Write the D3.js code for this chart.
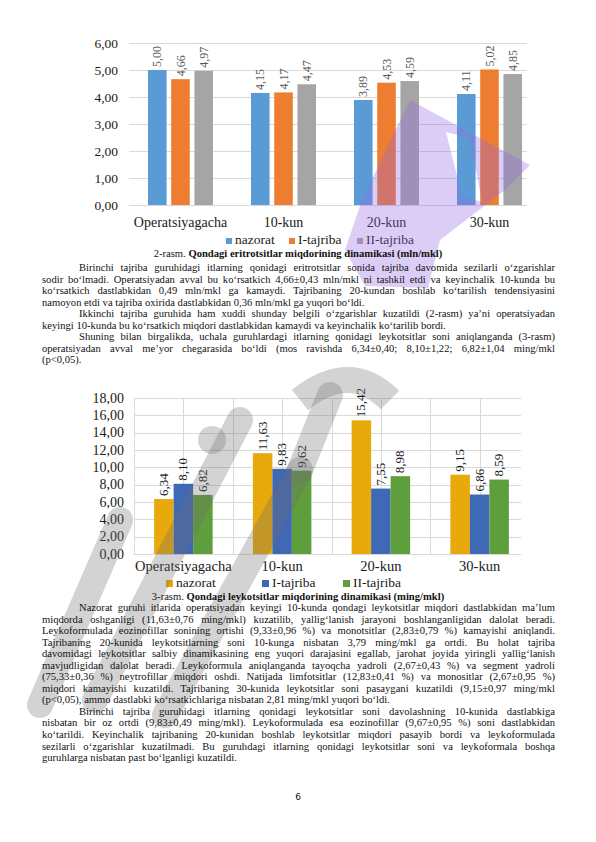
<!DOCTYPE html>
<html>
<head>
<meta charset="utf-8">
<script src="https://cdn.jsdelivr.net/npm/d3@7"></script>
<style>
  html, body { margin: 0; padding: 0; background: #fff; }
  #page { position: relative; width: 596px; height: 842px; overflow: hidden; font-family: "Liberation Serif", "Times New Roman", serif; color: #111; }
  #page svg { position: absolute; left: 0; top: 0; font-family: "Liberation Serif", serif; }
  #wm { pointer-events: none; }
  .blk { position: absolute; left: 42px; width: 513px; font-size: 10.6px; line-height: 11.55px; }
  .ln { display: block; white-space: nowrap; text-align: justify; text-align-last: justify; }
  .ln.last { text-align-last: left; }
  .ln.ind { padding-left: 37px; }
  .cap { position: absolute; left: 0; width: 596px; text-align: center; font-size: 10.6px; line-height: 12px; }
</style>
</head>
<body>
<div id="page"></div>
<script>
// chart 2 (eritrotsitlar)
const categories = ["Operatsiyagacha", "10-kun", "20-kun", "30-kun"];
const series = ["nazorat", "I-tajriba", "II-tajriba"];
const eritNazorat = [5.00, 4.15, 3.89, 4.11];
const eritTajriba1 = [4.66, 4.17, 4.53, 5.02];
const eritTajriba2 = [4.97, 4.47, 4.59, 4.85];
const eritTicks = [0, 1, 2, 3, 4, 5, 6];

// chart 3 (leykotsitlar)
const leykNazorat = [6.34, 11.63, 15.42, 9.15];
const leykTajriba1 = [8.10, 9.83, 7.55, 6.86];
const leykTajriba2 = [6.82, 9.62, 8.98, 8.59];
const leykTicks = [0, 2, 4, 6, 8, 10, 12, 14, 16, 18];

const fmt = v => v.toFixed(2).replace(".", ",");

const page = d3.select("#page");
const svg = page.append("svg").attr("width", 596).attr("height", 842);

function drawChart(o) {
  const g = svg.append("g");
  const y = d3.scaleLinear().domain([0, o.max]).range([o.y0, o.yTop]);
  const x = d3.scaleBand().domain(categories).range(o.xRange).paddingInner(0).paddingOuter(0);
  const xs = d3.scaleBand().domain(series).range([0, o.groupW]).paddingInner(o.innerPad);

  // grid
  g.append("g").selectAll("line").data(o.grid).join("line")
    .attr("x1", o.xRange[0]).attr("x2", o.gridRight)
    .attr("y1", d => Math.round(y(d)) + 0.5).attr("y2", d => Math.round(y(d)) + 0.5)
    .attr("stroke", "#d9d9d9").attr("stroke-width", 1);
  if (o.vgrid) {
    const vx = [];
    categories.forEach(c => { vx.push(x(c)); vx.push(x(c) + x.bandwidth() / 2); });
    g.append("g").selectAll("line").data(vx).join("line")
      .attr("x1", d => Math.round(d) + 0.5).attr("x2", d => Math.round(d) + 0.5)
      .attr("y1", o.yTop).attr("y2", o.y0)
      .attr("stroke", "#d9d9d9").attr("stroke-width", 1);
  }

  // y tick labels
  g.append("g").selectAll("text").data(o.ticks).join("text")
    .attr("x", o.tickX).attr("y", d => y(d) + 4.5)
    .attr("text-anchor", "end")
    .attr("font-size", o.tickSize).attr("fill", "#1a1a1a")
    .text(fmt);

  // bars
  const rows = [];
  categories.forEach((c, i) => {
    o.values.forEach((arr, s) => rows.push({ c, s: series[s], v: arr[i], col: o.colors[s] }));
  });
  const cx = c => x(c) + x.bandwidth() / 2 - o.groupW / 2;
  g.append("g").selectAll("rect").data(rows).join("rect")
    .attr("x", d => cx(d.c) + xs(d.s))
    .attr("y", d => y(d.v))
    .attr("width", xs.bandwidth())
    .attr("height", d => o.y0 - y(d.v))
    .attr("fill", d => d.col);

  // value labels (rotated)
  g.append("g").selectAll("text").data(rows).join("text")
    .attr("transform", d => `translate(${cx(d.c) + xs(d.s) + xs.bandwidth() / 2 + 4},${y(d.v) - 3}) rotate(-90)`)
    .attr("font-size", o.labelSize).attr("fill", o.labelColor)
    .text(d => fmt(d.v));

  // category labels
  g.append("g").selectAll("text").data(categories).join("text")
    .attr("x", c => x(c) + x.bandwidth() / 2).attr("y", o.catY)
    .attr("text-anchor", "middle").attr("font-size", o.catSize).attr("fill", "#1a1a1a")
    .text(c => c);

  // legend
  const lg = g.append("g").selectAll("g").data(series).join("g")
    .attr("transform", (d, i) => `translate(${o.legendX[i]},${o.legendY})`);
  lg.append("rect").attr("x", 0).attr("y", -o.mark).attr("width", o.mark).attr("height", o.mark)
    .attr("fill", (d, i) => o.colors[i]);
  lg.append("text").attr("x", o.mark + 3).attr("y", 0)
    .attr("font-size", o.legendSize).attr("fill", "#1a1a1a").text(d => d);
}

drawChart({
  values: [eritNazorat, eritTajriba1, eritTajriba2],
  colors: ["#5b9bd5", "#ed7d31", "#a5a5a5"],
  max: 6, ticks: eritTicks, grid: eritTicks,
  y0: 205, yTop: 43, xRange: [129, 541], gridRight: 527,
  groupW: 65, innerPad: 0.2, vgrid: false,
  tickX: 118, tickSize: 13.5, labelSize: 12, labelColor: "#595959",
  catY: 227, catSize: 14,
  legendX: [226, 289, 357], legendY: 244, mark: 6, legendSize: 13.5
});

drawChart({
  values: [leykNazorat, leykTajriba1, leykTajriba2],
  colors: ["#e8a90a", "#3f68b5", "#5f9e3c"],
  max: 18, ticks: leykTicks, grid: leykTicks,
  y0: 554, yTop: 398, xRange: [134, 529], gridRight: 521,
  groupW: 58.5, innerPad: 0, vgrid: true,
  tickX: 124, tickSize: 14, labelSize: 13, labelColor: "#1a1a1a",
  catY: 571, catSize: 14.5,
  legendX: [166, 262, 343], legendY: 587, mark: 7, legendSize: 13.5
});

// watermark (translucent, rough)
const wm = svg.append("g").attr("id", "wm");
const grayBands = [
  [[40, 705], [120, 520]],
  [[95, 700], [240, 420]],
  [[165, 715], [300, 470]],
  [[300, 470], [330, 395]]
];
wm.selectAll("line.g").data(grayBands).join("line")
  .attr("x1", d => d[0][0]).attr("y1", d => d[0][1]).attr("x2", d => d[1][0]).attr("y2", d => d[1][1])
  .attr("stroke", "#6e6e6e").attr("stroke-opacity", 0.3).attr("stroke-width", 26).attr("stroke-linecap", "round");
wm.append("circle").attr("cx", 212).attr("cy", 440).attr("r", 14).attr("fill", "#6e6e6e").attr("fill-opacity", 0.3);
wm.append("path").attr("d", "M 300 400 Q 350 360 390 400")
  .attr("fill", "none").attr("stroke", "#6e6e6e").attr("stroke-opacity", 0.3).attr("stroke-width", 26);
wm.append("path")
  .attr("d", "M 410 100 L 530 165 L 505 190 L 440 240 L 428 288 L 365 286 L 345 250 L 362 200 Z M 446 132 L 470 138 L 482 202 L 462 196 Z")
  .attr("fill", "#9466e3").attr("fill-opacity", 0.33).attr("fill-rule", "evenodd");

// captions and text
page.append("div").attr("class", "cap").style("top", "248px")
  .html("2-rasm. <b>Qondagi eritrotsitlar miqdorining dinamikasi (mln/mkl)</b>");
page.append("div").attr("class", "cap").style("top", "591px")
  .html("3-rasm. <b>Qondagi leykotsitlar miqdorining dinamikasi (ming/mkl)</b>");

const text1 = [
  ["ind", "Birinchi tajriba guruhidagi itlarning qonidagi eritrotsitlar sonida tajriba davomida sezilarli o‘zgarishlar"],
  ["", "sodir bo‘lmadi. Operatsiyadan avval bu ko‘rsatkich 4,66±0,43 mln/mkl ni tashkil etdi va keyinchalik 10-kunda bu"],
  ["", "ko‘rsatkich dastlabkidan 0,49 mln/mkl ga kamaydi. Tajribaning 20-kundan boshlab ko‘tarilish tendensiyasini"],
  ["last", "namoyon etdi va tajriba oxirida dastlabkidan 0,36 mln/mkl ga yuqori bo‘ldi."],
  ["ind", "Ikkinchi tajriba guruhida ham xuddi shunday belgili o‘zgarishlar kuzatildi (2-rasm) ya’ni operatsiyadan"],
  ["last", "keyingi 10-kunda bu ko‘rsatkich miqdori dastlabkidan kamaydi va keyinchalik ko‘tarilib bordi."],
  ["ind", "Shuning bilan birgalikda, uchala guruhlardagi itlarning qonidagi leykotsitlar soni aniqlanganda (3-rasm)"],
  ["", "operatsiyadan avval me’yor chegarasida bo‘ldi (mos ravishda 6,34±0,40;  8,10±1,22; 6,82±1,04 ming/mkl"],
  ["last", "(p<0,05)."]
];
const text2 = [
  ["ind", "Nazorat guruhi itlarida operatsiyadan keyingi 10-kunda qondagi leykotsitlar miqdori dastlabkidan ma’lum"],
  ["", "miqdorda oshganligi (11,63±0,76 ming/mkl)  kuzatilib, yallig‘lanish jarayoni boshlanganligidan dalolat beradi."],
  ["", "Leykoformulada eozinofillar sonining ortishi (9,33±0,96 %) va monotsitlar (2,83±0,79 %) kamayishi aniqlandi."],
  ["", "Tajribaning 20-kunida leykotsitlarning soni 10-kunga nisbatan 3,79 ming/mkl ga ortdi. Bu holat tajriba"],
  ["", "davomidagi leykotsitlar salbiy dinamikasining eng yuqori darajasini egallab, jarohat joyida yiringli yallig‘lanish"],
  ["", "mavjudligidan dalolat beradi. Leykoformula aniqlanganda tayoqcha yadroli (2,67±0,43 %) va segment yadroli"],
  ["", "(75,33±0,36 %) neytrofillar miqdori oshdi. Natijada limfotsitlar (12,83±0,41 %) va monositlar (2,67±0,95 %)"],
  ["", "miqdori kamayishi kuzatildi. Tajribaning 30-kunida leykotsitlar soni pasaygani kuzatildi (9,15±0,97 ming/mkl"],
  ["last", "(p<0,05), ammo dastlabki ko‘rsatkichlariga nisbatan 2,81 ming/mkl yuqori bo‘ldi."],
  ["ind", "Birinchi tajriba guruhidagi itlarning qonidagi leykotsitlar soni davolashning 10-kunida dastlabkiga"],
  ["", "nisbatan bir oz ortdi (9,83±0,49 ming/mkl). Leykoformulada esa eozinofillar (9,67±0,95 %) soni dastlabkidan"],
  ["", "ko‘tarildi.  Keyinchalik tajribaning 20-kunidan boshlab leykotsitlar miqdori pasayib bordi va leykoformulada"],
  ["", "sezilarli o‘zgarishlar kuzatilmadi. Bu guruhdagi itlarning qonidagi leykotsitlar soni va leykoformala boshqa"],
  ["last", "guruhlarga nisbatan past bo‘lganligi kuzatildi."]
];

function block(lines, top) {
  const b = page.append("div").attr("class", "blk").style("top", top + "px");
  b.selectAll("span").data(lines).join("span")
    .attr("class", d => "ln " + d[0])
    .style("white-space", d => d[0] === "last" ? "nowrap" : "normal")
    .text(d => d[1]);
}
block(text1, 262);
block(text2, 602);

page.append("div").attr("class", "cap").style("top", "791px").style("font-family", "'DejaVu Sans', sans-serif").style("font-size", "9px").text("6");
</script>
</body>
</html>
